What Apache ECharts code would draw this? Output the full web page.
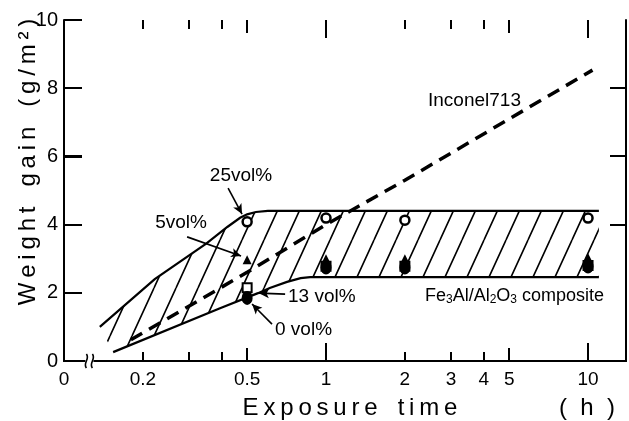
<!DOCTYPE html>
<html><head><meta charset="utf-8">
<script src="https://cdn.jsdelivr.net/npm/echarts@6/dist/echarts.min.js"></script>
<style>html,body{margin:0;padding:0;background:#fff}#c{width:629px;height:421px}</style>
</head><body><div id="c"></div>
<script>
// ---- data ----
const xLabelValues = [0.1, 0.2, 0.5, 1, 2, 3, 4, 5, 10]; // 0.1 is printed as "0"
const xShortTicks = [0.2, 0.3, 0.4, 2, 3, 4];
const xMidTicks = [0.5, 5];
const xLongTicks = [1, 10];
const yLeftTicks = [2, 4, 6, 8];
const yRightTicks = [4, 6, 8];
const breakAt = [0.125, 0];

const inconel713 = [[0.18, 0.62], [0.5, 2.6], [1, 4.0], [2, 5.3], [5, 7.1], [10.4, 8.53]];
const bandUpper = [[0.137, 1.0], [0.222, 2.4], [0.35, 3.45], [0.42, 3.93], [0.47, 4.2], [0.5, 4.3], [0.54, 4.37], [0.6, 4.4], [11, 4.4]];
const bandLower = [[0.154, 0.26], [0.394, 1.55], [0.55, 1.99], [0.61, 2.14], [0.71, 2.32], [0.8, 2.43], [0.87, 2.46], [11, 2.46]];
const vol25 = [[0.5, 4.08], [1, 4.19], [2, 4.13], [10, 4.19]];
const vol5 = [[0.5, 2.97], [1, 3.0], [2, 3.0], [10, 3.03]];
const vol13 = [[0.5, 2.15], [1, 2.78], [2, 2.78], [10, 2.8]];
const vol0 = [[0.5, 1.85], [1, 2.74], [2, 2.74], [10, 2.77]];
// arrows: [from, to]
const arrows = [
  [[0.423, 5.07], [0.478, 4.31]],
  [[0.295, 3.64], [0.474, 3.08]],
  [[0.698, 1.96], [0.555, 1.99]],
  [[0.622, 1.08], [0.522, 1.67]]
];

// ---- chart ----
const FONT = 'Liberation Sans';
const XMIN = 0.1, XMAX = 13.96, YMIN = 0, YMAX = 10;
const GRID = { left: 64, right: 3, top: 20, bottom: 60 };
const TS = '\u2009';
const spaced = s => s.split('').join(TS);
const TW = 2; // tick width

function hatch() {
  const W = 22, H = 48;
  const c = document.createElement('canvas');
  c.width = W; c.height = H;
  const g = c.getContext('2d');
  g.strokeStyle = '#000'; g.lineWidth = 1.6;
  g.beginPath();
  for (let k = -1; k <= 1; k++) { g.moveTo(k * W, H); g.lineTo(k * W + W, 0); }
  g.stroke();
  return { image: c, repeat: 'repeat' };
}
const pattern = hatch();

function xAxisDef(pos, withLabels) {
  return {
    type: 'log', logBase: 10, min: XMIN, max: XMAX, position: pos,
    splitLine: { show: false }, minorTick: { show: false },
    axisLine: { show: true, lineStyle: { color: '#000', width: 2 } },
    axisTick: { show: false },
    axisLabel: withLabels ? {
      show: true, customValues: xLabelValues, margin: 9,
      fontFamily: FONT, fontSize: 19, color: '#000',
      formatter: v => (v < 0.15 ? '0' : String(v))
    } : { show: false }
  };
}

// tick marks on bottom and top edges, placed through the x scale
function xTickSeries(vals, len) {
  return {
    type: 'custom', data: vals.map(v => [v, YMIN]), z: 4, silent: true, clip: false,
    renderItem: (p, api) => {
      const v = api.value(0);
      const b = api.coord([v, YMIN]);
      const t = api.coord([v, YMAX]);
      return {
        type: 'group', children: [
          { type: 'rect', shape: { x: Math.round(b[0]) - 1, y: b[1] - len, width: TW, height: len }, style: { fill: '#000' } },
          { type: 'rect', shape: { x: Math.round(t[0]) - 1, y: t[1], width: TW, height: len }, style: { fill: '#000' } }
        ]
      };
    }
  };
}

const chart = echarts.init(document.getElementById('c'));
const textGraphics = [
  { type: 'text', x: 28, y: 162, rotation: Math.PI / 2, style: { text: spaced('Weight') + '   ' + spaced('gain') + '   ' + spaced('(g/m²)'), font: '24px ' + FONT, fill: '#000', align: 'center', verticalAlign: 'middle' } },
  { type: 'text', x: 350, y: 408, style: { text: spaced('Exposure') + '   ' + spaced('time'), font: '24px ' + FONT, fill: '#000', align: 'center', verticalAlign: 'middle' } },
  { type: 'text', x: 587, y: 408, style: { text: '(  h  )', font: '24px ' + FONT, fill: '#000', align: 'center', verticalAlign: 'middle' } },
  { type: 'text', x: 241, y: 176, style: { text: '25vol%', font: '19px ' + FONT, fill: '#000', align: 'center', verticalAlign: 'middle' } },
  { type: 'text', x: 181, y: 223, style: { text: '5vol%', font: '19px ' + FONT, fill: '#000', align: 'center', verticalAlign: 'middle' } },
  { type: 'text', x: 288, y: 297, style: { text: '13 vol%', font: '19px ' + FONT, fill: '#000', align: 'left', verticalAlign: 'middle' } },
  { type: 'text', x: 275, y: 330, style: { text: '0 vol%', font: '19px ' + FONT, fill: '#000', align: 'left', verticalAlign: 'middle' } },
  { type: 'text', x: 428, y: 101, style: { text: 'Inconel713', font: '19px ' + FONT, fill: '#000', align: 'left', verticalAlign: 'middle' } },
  { type: 'text', x: 425, y: 296, style: {
      text: 'Fe{s|3}Al/Al{s|2}O{s|3} composite', font: '18px ' + FONT, fill: '#000', align: 'left', verticalAlign: 'middle',
      rich: { s: { fontSize: 12, fontFamily: FONT, padding: [8, 0, 0, 0] } }
    } }
];

const option = {
  animation: false,
  backgroundColor: '#fff',
  grid: Object.assign({ containLabel: false }, GRID),
  xAxis: [xAxisDef('bottom', true), xAxisDef('top', false)],
  yAxis: [
    {
      type: 'value', min: YMIN, max: YMAX, interval: 2, position: 'left',
      splitLine: { show: false },
      axisLine: { show: true, lineStyle: { color: '#000', width: 2 } },
      axisTick: { show: true, inside: true, length: 18, lineStyle: { color: '#000', width: 2 } },
      axisLabel: { margin: 6, fontFamily: FONT, fontSize: 20, color: '#000' }
    },
    {
      type: 'value', min: YMIN, max: YMAX, interval: 2, position: 'right',
      splitLine: { show: false },
      axisLine: { show: true, lineStyle: { color: '#000', width: 2 } },
      axisTick: { show: false },
      axisLabel: { show: false }
    }
  ],
  series: [
    {
      type: 'custom', name: 'band', data: bandUpper, z: 1, silent: true, clip: false,
      renderItem: (p, api) => {
        if (p.dataIndex !== 0) return null;
        const up = bandUpper.map(d => api.coord(d));
        const lo = bandLower.map(d => api.coord(d));
        const poly = up.concat(lo.slice().reverse());
        return {
          type: 'group', children: [
            { type: 'polygon', shape: { points: poly }, style: { fill: pattern, stroke: null } },
            { type: 'polyline', shape: { points: up }, style: { stroke: '#000', lineWidth: 2.2, fill: null } },
            { type: 'polyline', shape: { points: lo }, style: { stroke: '#000', lineWidth: 2.2, fill: null } }
          ]
        };
      }
    },
    {
      type: 'line', name: 'Inconel713', data: inconel713, z: 3, symbol: 'none', silent: true,
      lineStyle: { color: '#000', width: 3.5, type: [13, 8] }
    },
    {
      type: 'scatter', name: '25vol%', data: vol25, z: 5, symbol: 'circle', symbolSize: 9,
      itemStyle: { color: '#fff', borderColor: '#000', borderWidth: 2.5, opacity: 1 },
      markLine: {
        silent: true, symbol: ['none', 'arrow'], symbolSize: [7, 10], animation: false,
        label: { show: false },
        lineStyle: { color: '#000', width: 1.6, type: 'solid' },
        data: arrows.map(a => [{ coord: a[0] }, { coord: a[1] }])
      }
    },
    {
      type: 'scatter', name: '5vol%', data: vol5, z: 5, symbol: 'triangle', symbolSize: 9,
      itemStyle: { color: '#000', opacity: 1 }
    },
    {
      type: 'scatter', name: '13vol%', data: vol13, z: 5, symbol: 'rect', symbolSize: 9,
      itemStyle: { color: '#fff', borderColor: '#000', borderWidth: 2, opacity: 1 }
    },
    {
      type: 'scatter', name: '0vol%', data: vol0, z: 6, symbol: 'circle', symbolSize: [11, 14],
      itemStyle: { color: '#000', opacity: 1 }
    },
    xTickSeries(xShortTicks, 9),
    xTickSeries(xMidTicks, 13),
    xTickSeries(xLongTicks, 18),
    {
      type: 'custom', name: 'break', data: [breakAt], z: 20, silent: true, clip: false,
      renderItem: (p, api) => {
        const c = api.coord([api.value(0), api.value(1)]);
        const x = c[0], y = c[1];
        const s = { stroke: '#000', lineWidth: 1.6, fill: null };
        return {
          type: 'group', children: [
            { type: 'rect', shape: { x: x - 4, y: y - 2, width: 8, height: 4 }, style: { fill: '#fff' } },
            { type: 'bezierCurve', shape: { x1: x - 3, y1: y - 7, cpx1: x + 1, cpy1: y - 2, cpx2: x - 7, cpy2: y + 2, x2: x - 3, y2: y + 7 }, style: s },
            { type: 'bezierCurve', shape: { x1: x + 3, y1: y - 7, cpx1: x + 7, cpy1: y - 2, cpx2: x - 1, cpy2: y + 2, x2: x + 3, y2: y + 7 }, style: s }
          ]
        };
      }
    }
  ],
  graphic: textGraphics
};
chart.setOption(option);

// y-axis tick marks on the left and right frame edges, positioned through the y scale
const xL = chart.convertToPixel({ xAxisIndex: 0 }, XMIN);
const xR = chart.convertToPixel({ xAxisIndex: 0 }, XMAX);
const yTickGraphics = [];
yLeftTicks.forEach(v => {
  const py = Math.round(chart.convertToPixel({ yAxisIndex: 0 }, v));
  yTickGraphics.push({ type: 'rect', z: 50, silent: true, shape: { x: xL, y: py - 1, width: 18, height: TW }, style: { fill: '#000' } });
});
yRightTicks.forEach(v => {
  const py = Math.round(chart.convertToPixel({ yAxisIndex: 0 }, v));
  yTickGraphics.push({ type: 'rect', z: 50, silent: true, shape: { x: xR - 16, y: py - 1, width: 16, height: TW }, style: { fill: '#000' } });
});
chart.setOption({ graphic: textGraphics.concat(yTickGraphics) });
</script>
</body></html>
